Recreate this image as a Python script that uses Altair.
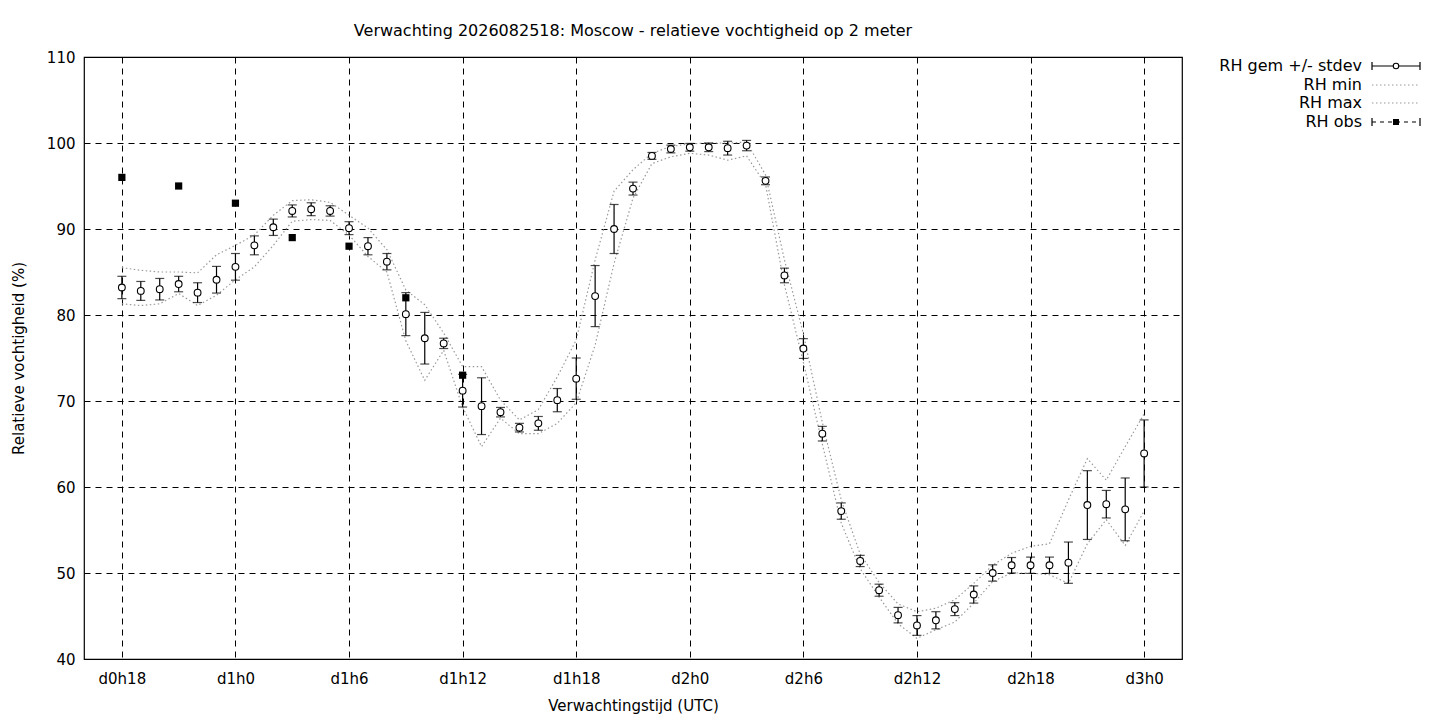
import altair as alt
import pandas as pd

# ---- data ----
hours = list(range(18, 73))
rh_mean = [83.2, 82.8, 83.0, 83.6, 82.6, 84.1, 85.6, 88.1, 90.2, 92.1,
           92.3, 92.1, 90.1, 88.0, 86.2, 80.1, 77.3, 76.7, 71.2, 69.4,
           68.7, 66.9, 67.4, 70.1, 72.6, 82.2, 90.0, 94.7, 98.5, 99.3,
           99.5, 99.5, 99.4, 99.7, 95.6, 84.6, 76.1, 66.2, 57.2, 51.4,
           48.0, 45.1, 43.9, 44.5, 45.8, 47.5, 50.0, 50.9, 50.9, 50.9,
           51.2, 57.9, 58.0, 57.4, 63.9]
rh_sd = [1.3, 1.1, 1.25, 0.9, 1.15, 1.55, 1.55, 1.1, 0.95, 0.7,
         0.75, 0.6, 0.75, 1.0, 0.95, 2.5, 3.0, 0.6, 1.9, 3.3,
         0.55, 0.5, 0.8, 1.35, 2.4, 3.55, 2.85, 0.75, 0.4, 0.45,
         0.45, 0.5, 0.8, 0.6, 0.45, 0.85, 1.15, 0.85, 0.95, 0.65,
         0.7, 0.9, 1.15, 1.0, 0.75, 1.0, 0.95, 0.9, 0.95, 0.95,
         2.4, 4.0, 1.6, 3.65, 3.9]
rh_min = [81.3, 81.1, 81.3, 82.5, 81.1, 82.3, 84.1, 85.6, 88.1, 90.9,
          91.1, 91.0, 89.3, 86.8, 85.0, 77.0, 72.4, 75.9, 69.3, 64.7,
          68.0, 66.2, 66.2, 67.4, 69.8, 76.5, 86.0, 93.6, 97.6, 98.4,
          98.8, 98.6, 98.0, 98.5, 95.2, 83.5, 74.5, 65.0, 55.8, 50.5,
          47.2, 44.1, 42.4, 43.4, 44.3, 46.5, 49.0, 50.0, 50.0, 49.8,
          48.8, 53.4, 56.2, 53.2, 57.2]
rh_max = [85.5, 85.2, 85.0, 85.0, 84.9, 87.0, 88.1, 89.3, 91.6, 93.3,
          93.4, 93.1, 91.6, 90.1, 87.6, 82.9, 81.2, 77.9, 74.0, 74.0,
          70.1, 67.8, 69.0, 72.8, 77.1, 86.4, 94.4, 96.9, 98.8, 99.6,
          99.9, 100.0, 100.0, 100.1, 96.3, 86.4, 77.8, 67.5, 58.5, 52.2,
          48.9, 46.4, 45.5, 45.9, 46.9, 48.8, 50.9, 52.3, 53.1, 53.4,
          58.5, 63.3, 60.8, 64.7, 68.5]
obs_hours = [18, 21, 24, 27, 30, 33, 36]
obs_vals = [96.0, 95.0, 93.0, 89.0, 88.0, 82.0, 73.0]

tick_hours = [18, 24, 30, 36, 42, 48, 54, 60, 66, 72]
tick_labels = ["d0h18", "d1h0", "d1h6", "d1h12", "d1h18",
               "d2h0", "d2h6", "d2h12", "d2h18", "d3h0"]
y_ticks = [40, 50, 60, 70, 80, 90, 100, 110]

legend_labels = ["RH gem +/- stdev", "RH min", "RH max", "RH obs"]
title_text = "Verwachting 2026082518: Moscow - relatieve vochtigheid op 2 meter"

# ---- tables ----
fc = pd.DataFrame({"hour": hours, "mean": rh_mean, "sd": rh_sd,
                   "min": rh_min, "max": rh_max})
fc["lo"] = fc["mean"] - fc["sd"]
fc["hi"] = fc["mean"] + fc["sd"]
obs = pd.DataFrame({"hour": obs_hours, "obs": obs_vals})
one = pd.DataFrame({"k": [0]})

label_expr = ""
for h, lab in zip(tick_hours, tick_labels):
    label_expr += f"datum.value == {h} ? '{lab}' : "
label_expr += "''"

FONT = "DejaVu Sans"
GRID_DASH = [6, 5]

xscale = alt.Scale(domain=[16, 74], nice=False, zero=False)
yscale = alt.Scale(domain=[40, 110], nice=False, zero=False)

xaxis = alt.Axis(values=tick_hours, labelExpr=label_expr, title="Verwachtingstijd (UTC)",
                 grid=True, gridDash=GRID_DASH, gridColor="black", gridOpacity=1,
                 ticks=False, domain=False, labelPadding=12, titlePadding=12,
                 labelFontSize=15, titleFontSize=15, titleFontWeight="normal",
                 labelColor="black", titleColor="black", labelFont=FONT, titleFont=FONT)
yaxis = alt.Axis(values=y_ticks, title="Relatieve vochtigheid (%)",
                 grid=True, gridDash=GRID_DASH, gridColor="black", gridOpacity=1,
                 ticks=False, domain=False, labelPadding=9, titlePadding=20,
                 labelFontSize=15, titleFontSize=15, titleFontWeight="normal",
                 labelColor="black", titleColor="black", labelFont=FONT, titleFont=FONT)

base = alt.Chart(fc)
X = alt.X("hour:Q", scale=xscale, axis=xaxis)

minmax_style = dict(color="#9a9a9a", strokeDash=[1.5, 2.5], strokeWidth=1.2)

min_line = base.mark_line(**minmax_style).encode(
    x=X, y=alt.Y("min:Q", scale=yscale, axis=yaxis))
max_line = base.mark_line(**minmax_style).encode(
    x=alt.X("hour:Q"), y=alt.Y("max:Q"))

err = base.mark_rule(color="black", strokeWidth=1.2).encode(
    x="hour:Q", y="lo:Q", y2="hi:Q")
cap_lo = base.mark_tick(color="black", orient="horizontal", size=9, thickness=1.2).encode(
    x="hour:Q", y="lo:Q")
cap_hi = base.mark_tick(color="black", orient="horizontal", size=9, thickness=1.2).encode(
    x="hour:Q", y="hi:Q")
pts = base.mark_point(shape="circle", filled=True, fill="white", stroke="black",
                      strokeWidth=1.1, size=46, opacity=1).encode(
    x="hour:Q", y="mean:Q")

obs_pts = alt.Chart(obs).mark_square(color="black", size=52, opacity=1).encode(
    x="hour:Q", y="obs:Q")

# ---- gnuplot-style key (text right, sample left-to-right) ----
LX_TEXT, LX0, LX1, LXM = 1278, 1288, 1336, 1312
rows = [9, 28, 46, 65]
leg = []
for lab, ry in zip(legend_labels, rows):
    leg.append(alt.Chart(one).mark_text(align="right", baseline="middle", font=FONT,
                                        fontSize=16, color="black").encode(
        x=alt.value(LX_TEXT), y=alt.value(ry), text=alt.value(lab)))
# gem sample
leg.append(alt.Chart(one).mark_rule(color="black", strokeWidth=1.2).encode(
    x=alt.value(LX0), x2=alt.value(LX1), y=alt.value(rows[0])))
for xx in (LX0, LX1):
    leg.append(alt.Chart(one).mark_rule(color="black", strokeWidth=1.2).encode(
        x=alt.value(xx), y=alt.value(rows[0] - 4), y2=alt.value(rows[0] + 4)))
leg.append(alt.Chart(one).mark_point(shape="circle", filled=True, fill="white", stroke="black",
                                     strokeWidth=1.1, size=30, opacity=1).encode(
    x=alt.value(LXM), y=alt.value(rows[0])))
# min / max samples
for ry in (rows[1], rows[2]):
    leg.append(alt.Chart(one).mark_rule(**minmax_style).encode(
        x=alt.value(LX0), x2=alt.value(LX1), y=alt.value(ry)))
# obs sample
leg.append(alt.Chart(one).mark_rule(color="black", strokeWidth=1.1, strokeDash=[4, 4]).encode(
    x=alt.value(LX0), x2=alt.value(LX1), y=alt.value(rows[3])))
for xx in (LX0, LX1):
    leg.append(alt.Chart(one).mark_rule(color="black", strokeWidth=1.2).encode(
        x=alt.value(xx), y=alt.value(rows[3] - 4), y2=alt.value(rows[3] + 4)))
leg.append(alt.Chart(one).mark_square(color="black", size=36, opacity=1).encode(
    x=alt.value(LXM), y=alt.value(rows[3])))

chart = alt.layer(min_line, max_line, err, cap_lo, cap_hi, pts, obs_pts, *leg).properties(
    width=1098, height=602,
    title=alt.TitleParams(title_text, font=FONT, fontSize=16, fontWeight="normal",
                          color="black", anchor="middle", offset=11),
    padding={"left": 76, "top": 49, "right": 250, "bottom": 60},
    autosize=alt.AutoSizeParams(type="none"),
).configure(
    font=FONT, background="white"
).configure_view(stroke="black", strokeWidth=1.2)

chart.save("out.html", embed_options={"renderer": "svg", "actions": False})
